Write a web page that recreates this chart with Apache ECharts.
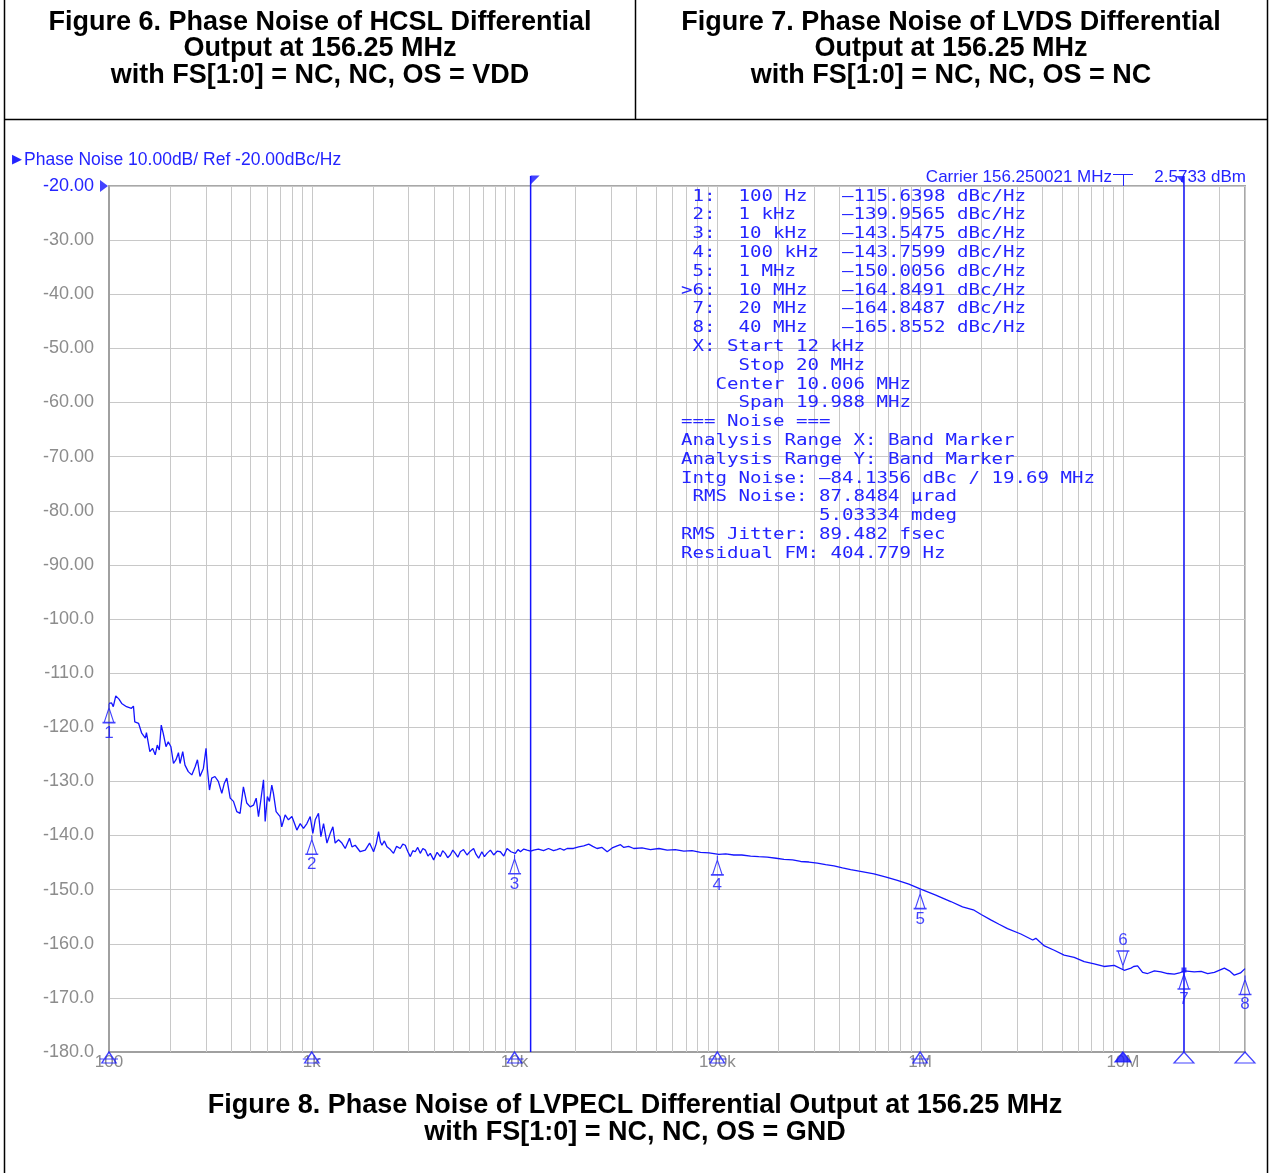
<!DOCTYPE html>
<html>
<head>
<meta charset="utf-8">
<script src="https://cdn.jsdelivr.net/npm/echarts@6/dist/echarts.min.js"></script>
<style>
html,body{margin:0;padding:0;background:#fff;}
#c{width:1269px;height:1173px;}
</style>
</head>
<body>
<div id="c"></div>
<script>
// ---------------- DATA ----------------
const freqHz = [
100,103,105,108,112,115.5,122,129,132,134,140,145,151,153,159,164,169,173,177,181,
185,191,196,202,208,214,220,224,231,237,246,256,266,273,281,292,301,306,313,321,
333,346,360,370,381,396,411,427,443,460,478,497,516,532,546,561,578,589,604,618,
635,647,667,698,711,739,767,798,828,844,877,910,946,982,1012,1040,1079,1109,1143,1188,
1233,1271,1304,1355,1408,1462,1535,1578,1638,1733,1835,1927,2017,
2080,2135,2180,2218,2280,2349,2440,2530,2620,2730,
2810,2891,2970,3061,3150,3236,3330,3428,3530,3631,
3740,3840,3990,4150,4305,4420,4550,4680,4820,4960,
5105,5250,5400,5600,5830,6050,6280,6460,6650,6900,
7100,7310,7600,7890,8200,8510,8850,9180,9600,10090,
10400,10690,11100,11530,12000,12420,13100,13900,14700,15560,
16200,16800,17500,18160,19500,20700,21930,23220,24300,25500,
27000,28630,30300,32060,33300,34580,36500,38720,42500,46780,
51500,56590,62000,68380,75000,82650,91000,101700,110000,120500,
132000,145900,160000,176300,195000,213000,235000,257500,283000,311200,
342000,375900,414000,454200,500000,
592100,680000,772400,880000,1007000,1194000,1300000,1416000,1618000,1846000,
2000000,2230000,2450000,2697000,3138000,3590000,3721000,4100000,4584000,5129000,
5750000,6442000,7217000,8070000,9058000,10150000,10960000,11300000,11810000,12500000,
13240000,14300000,15410000,16600000,17920000,19000000,20080000,22490000,24300000,26190000,
28250000,31640000,33500000,35420000,38000000,40000000
];
const noiseDbc = [
-115.6,-115.5,-116.2,-114.2,-114.8,-115.6,-116.2,-116.5,-116.1,-119.0,-119.3,-121.1,-122.0,-121.0,-124.5,-123.9,-125.1,-123.3,-124.2,-119.6,
-121.1,-123.6,-122.7,-123.6,-126.7,-126.0,-124.7,-126.7,-124.5,-127.0,-128.2,-128.8,-127.3,-126.0,-129.1,-127.6,-123.9,-127.9,-131.6,-129.4,
-129.1,-130.0,-132.2,-130.4,-129.4,-133.1,-133.7,-135.6,-135.9,-131.0,-134.0,-134.7,-134.4,-133.1,-136.5,-133.4,-129.7,-137.4,-132.8,-133.7,
-130.7,-132.2,-135.6,-136.5,-138.4,-136.2,-137.1,-136.5,-138.1,-139.0,-137.8,-138.7,-137.8,-136.5,-139.6,-137.1,-135.9,-140.2,-137.8,-141.4,
-139.6,-138.4,-141.4,-140.8,-141.4,-142.4,-140.5,-142.1,-141.8,-143.0,-142.7,-141.4,-143.0,
-141.5,-139.3,-141.2,-141.8,-141.0,-142.1,-142.6,-143.3,-142.0,-142.4,
-141.6,-141.8,-142.9,-143.9,-142.8,-143.0,-142.2,-143.3,-142.4,-142.7,
-143.8,-143.3,-144.5,-143.1,-143.9,-142.8,-143.3,-144.1,-143.6,-142.7,
-143.3,-144.0,-143.0,-142.6,-143.6,-142.9,-142.4,-143.5,-144.2,-143.0,
-143.9,-143.3,-142.7,-143.6,-142.9,-143.0,-143.8,-142.4,-143.0,-143.3,
-142.6,-143.0,-142.5,-142.7,-142.9,-142.7,-142.5,-142.8,-142.4,-142.8,
-142.6,-142.4,-142.7,-142.4,-142.4,-142.1,-141.9,-141.6,-142.0,-142.4,
-142.2,-143.0,-142.3,-141.9,-141.7,-142.2,-142.0,-142.4,-142.3,-142.6,
-142.4,-142.7,-142.6,-142.9,-142.8,-143.1,-143.2,-143.5,-143.4,-143.6,
-143.6,-143.8,-143.9,-144.0,-144.2,-144.4,-144.5,-144.8,-144.9,-145.1,
-145.4,-145.6,-146.0,-146.3,-146.6,
-147.1,-147.7,-148.3,-149.0,-149.9,-151.0,-151.6,-152.2,-153.2,-153.8,
-154.6,-155.6,-156.4,-157.2,-158.2,-159.3,-159.0,-160.4,-161.2,-162.1,
-162.5,-163.3,-163.7,-164.2,-164.0,-164.9,-164.5,-164.2,-164.1,-165.3,
-165.5,-165.0,-165.2,-165.5,-165.6,-165.4,-165.0,-165.2,-165.1,-165.5,
-165.3,-164.5,-165.0,-165.8,-165.4,-164.6
];
const markerNum = ['1','2','3','4','5','6','7','8'];
const markerFreq = [100,1000,10000,100000,1000000,10000000,20000000,40000000];
const markerFreqLabel = ['100 Hz','1 kHz','10 kHz','100 kHz','1 MHz','10 MHz','20 MHz','40 MHz'];
const markerVal = [-115.6398,-139.9565,-143.5475,-143.7599,-150.0056,-164.8491,-164.8487,-165.8552];
const activeMarker = 5; // index of ">6"
const bandStart = 12000, bandStop = 20000000;
const xTickLabels = ['100','1k','10k','100k','1M','10M'];
const yMin = -180, yMax = -20, yStep = 10;
const noiseInfo = [
  ' X: Start 12 kHz',
  '     Stop 20 MHz',
  '   Center 10.006 MHz',
  '     Span 19.988 MHz',
  '=== Noise ===',
  'Analysis Range X: Band Marker',
  'Analysis Range Y: Band Marker',
  'Intg Noise: \u201384.1356 dBc / 19.69 MHz',
  ' RMS Noise: 87.8484 \u00b5rad',
  '            5.03334 mdeg',
  'RMS Jitter: 89.482 fsec',
  'Residual FM: 404.779 Hz'
];
const headerText = 'Phase Noise 10.00dB/ Ref -20.00dBc/Hz';
const carrierText = 'Carrier 156.250021 MHz';
const carrierPower = '2.5733 dBm';
const title6 = 'Figure 6. Phase Noise of HCSL Differential\nOutput at 156.25 MHz\nwith FS[1:0] = NC, NC, OS = VDD';
const title7 = 'Figure 7. Phase Noise of LVDS Differential\nOutput at 156.25 MHz\nwith FS[1:0] = NC, NC, OS = NC';
const title8 = 'Figure 8. Phase Noise of LVPECL Differential Output at 156.25 MHz\nwith FS[1:0] = NC, NC, OS = GND';

// ---------------- STYLE ----------------
const BLUE = '#1414ff';
const TXT_BLUE = '#2424ff';
const GRID = '#c8c8c8';
const AXIS = '#a0a0a0';
const LABEL = '#8c8c8c';

const trace = freqHz.map((f, i) => [f, noiseDbc[i]]);

// minor log gridlines (2..9 per decade)
const minorGrid = [];
for (let d = 100; d < 4e7; d *= 10) {
  for (let k = 2; k <= 9; k++) { const f = d * k; if (f < 4e7) minorGrid.push(f); }
}

// marker table text
const tableLines = markerNum.map((n, i) => {
  const pre = (i === activeMarker ? '>' : ' ') + n + ':  ';
  const lab = (markerFreqLabel[i] + '         ').slice(0, 9);
  return pre + lab + '\u2013' + Math.abs(markerVal[i]).toFixed(4) + ' dBc/Hz';
}).concat(noiseInfo);

const triUp = 'path://M6,0 L6,4 L1.5,18 L10.5,18 L6,4 M0,18 L12,18';
const triDown = 'path://M6,18 L6,14 L1.5,0 L10.5,0 L6,14 M0,0 L12,0';

const markerPts = [];
markerNum.forEach((n, i) => {
  const down = i === activeMarker;
  markerPts.push({
    value: [markerFreq[i], markerVal[i]],
    symbol: down ? triDown : triUp,
    symbolSize: [13, 19],
    symbolOffset: [0, down ? -9.5 : 9.5],
    label: { show: true, formatter: n, position: down ? 'top' : 'bottom', distance: 1 }
  });
});

const axisMarkPts = markerFreq.map((f, i) => {
  if (i < 5) return { value: [f, yMin], symbol: 'path://M8,0 L0,11 L16,11 Z M-2,7 L18,7', symbolSize: [18, 11], symbolOffset: [0, 5.5] };
  if (i === activeMarker) return { value: [f, yMin], symbol: 'path://M8,0 L0,10 L16,10 Z', symbolSize: [16, 10], symbolOffset: [0, 5], itemStyle: { color: BLUE } };
  return { value: [f, yMin], symbol: 'path://M10,0 L0,11 L20,11 Z', symbolSize: [20, 11], symbolOffset: [0, 5.5] };
});

const chart = echarts.init(document.getElementById('c'), null, { renderer: 'canvas' });
const option = {
  animation: false,
  backgroundColor: '#fff',
  grid: { left: 109, top: 186, width: 1136, height: 866, show: true, borderColor: '#a8a8a8', borderWidth: 2, backgroundColor: 'transparent' },
  xAxis: {
    type: 'log', logBase: 10, min: 100, max: 4e7,
    axisLine: { show: true, lineStyle: { color: AXIS, width: 2 } },
    axisTick: { show: false },
    splitLine: { show: true, lineStyle: { color: GRID, width: 1 } },
    axisLabel: {
      color: LABEL, fontFamily: 'Liberation Sans', fontSize: 17, margin: 2,
      showMaxLabel: false,
      formatter: v => {
        const l = Math.log10(v), e = Math.round(l);
        if (Math.abs(l - e) > 1e-6) return '';
        return xTickLabels[e - 2] || '';
      }
    }
  },
  yAxis: {
    type: 'value', min: yMin, max: yMax, interval: yStep,
    axisLine: { show: true, lineStyle: { color: AXIS, width: 2 } },
    axisTick: { show: false },
    splitLine: { show: true, lineStyle: { color: GRID, width: 1 } },
    axisLabel: {
      color: LABEL, fontFamily: 'Liberation Sans', fontSize: 18, margin: 15,
      formatter: v => {
        const s = v >= -90 ? v.toFixed(2) : v.toFixed(1);
        return v === yMax ? '{b|' + s + '}' : s;
      },
      rich: { b: { color: TXT_BLUE, fontFamily: 'Liberation Sans', fontSize: 18 } }
    }
  },
  series: [
    {
      name: 'minorGrid', type: 'line', data: [], silent: true, z: 1,
      markLine: {
        silent: true, symbol: ['none', 'none'], animation: false, z: 1,
        label: { show: false },
        lineStyle: { color: GRID, type: 'solid', width: 1 },
        data: minorGrid.map(f => ({ xAxis: f }))
      }
    },
    {
      name: 'Phase Noise', type: 'line', data: trace, showSymbol: false, symbol: 'none',
      lineStyle: { color: BLUE, width: 1.3 }, z: 3
    },
    {
      name: 'bandStart', type: 'line', data: [[bandStart, -18.15], [bandStart, yMin]], clip: false,
      showSymbol: false, symbol: 'none', lineStyle: { color: BLUE, width: 1.5 }, z: 4
    },
    {
      name: 'bandStop', type: 'line', data: [[bandStop, -18.15], [bandStop, yMin]], clip: false,
      showSymbol: false, symbol: 'none', lineStyle: { color: BLUE, width: 1.5 }, z: 4
    },
    {
      name: 'flags', type: 'scatter', clip: false, silent: true, z: 5,
      itemStyle: { color: BLUE },
      data: [
        { value: [bandStart, -18.15], symbol: 'path://M0,0 L9,0 L0,9 Z', symbolSize: [9, 9], symbolOffset: [4.5, 4] },
        { value: [bandStop, -18.15], symbol: 'path://M0,0 L9,0 L9,9 Z', symbolSize: [8, 8], symbolOffset: [-4, 4] },
        { value: [markerFreq[0], yMax], symbol: 'path://M0,0 L8,6 L0,12 Z', symbolSize: [8, 12], symbolOffset: [-5, 0] },
        { value: [markerFreq[6], markerVal[6]], symbol: 'rect', symbolSize: [5, 5] }
      ]
    },
    {
      name: 'markers', type: 'scatter', clip: false, silent: true, z: 6,
      data: markerPts,
      itemStyle: { color: 'rgba(0,0,0,0)', borderColor: BLUE, borderWidth: 1.3 },
      label: { color: BLUE, fontFamily: 'Liberation Sans', fontSize: 17 }
    },
    {
      name: 'axisMarkers', type: 'scatter', clip: false, silent: true, z: 6,
      data: axisMarkPts,
      itemStyle: { color: 'rgba(0,0,0,0)', borderColor: BLUE, borderWidth: 1.2 }
    }
  ],
  graphic: [
    // frame lines
    { type: 'line', shape: { x1: 4.5, y1: 0, x2: 4.5, y2: 1173 }, style: { stroke: '#000', lineWidth: 1.5 } },
    { type: 'line', shape: { x1: 1267.5, y1: 0, x2: 1267.5, y2: 1173 }, style: { stroke: '#000', lineWidth: 1.5 } },
    { type: 'line', shape: { x1: 635.5, y1: 0, x2: 635.5, y2: 120 }, style: { stroke: '#000', lineWidth: 1.5 } },
    { type: 'line', shape: { x1: 4, y1: 119.5, x2: 1268, y2: 119.5 }, style: { stroke: '#000', lineWidth: 1.5 } },
    // titles
    { type: 'text', x: 320, y: 9, style: { text: title6, font: 'bold 27px "Liberation Sans"', fill: '#000', align: 'center', verticalAlign: 'top', lineHeight: 26.5 } },
    { type: 'text', x: 951, y: 9, style: { text: title7, font: 'bold 27px "Liberation Sans"', fill: '#000', align: 'center', verticalAlign: 'top', lineHeight: 26.5 } },
    { type: 'text', x: 635, y: 1092, style: { text: title8, font: 'bold 27px "Liberation Sans"', fill: '#000', align: 'center', verticalAlign: 'top', lineHeight: 27 } },
    // instrument header
    { type: 'text', x: 12, y: 160, style: { text: '\u25B6', font: '13px "DejaVu Sans"', fill: TXT_BLUE, align: 'left', verticalAlign: 'middle' } },
    { type: 'text', x: 24, y: 160, style: { text: headerText, font: '17.5px "Liberation Sans"', fill: TXT_BLUE, align: 'left', verticalAlign: 'middle' } },
    { type: 'text', x: 1112, y: 177, style: { text: carrierText, font: '17px "Liberation Sans"', fill: TXT_BLUE, align: 'right', verticalAlign: 'middle' } },
    { type: 'line', shape: { x1: 1113, y1: 174.5, x2: 1133, y2: 174.5 }, style: { stroke: TXT_BLUE, lineWidth: 1 } },
    { type: 'line', shape: { x1: 1123.5, y1: 174.5, x2: 1123.5, y2: 186 }, style: { stroke: TXT_BLUE, lineWidth: 1 } },
    { type: 'text', x: 1246, y: 177, style: { text: carrierPower, font: '17px "Liberation Sans"', fill: TXT_BLUE, align: 'right', verticalAlign: 'middle' } },
    // marker table
    { type: 'text', x: 681, y: 187, scaleX: 1.194, z: 10, style: { text: tableLines.join('\n'), font: '16px "DejaVu Sans Mono"', fill: TXT_BLUE, align: 'left', verticalAlign: 'top', lineHeight: 18.8 } }
  ]
};
chart.setOption(option);
</script>
</body>
</html>
